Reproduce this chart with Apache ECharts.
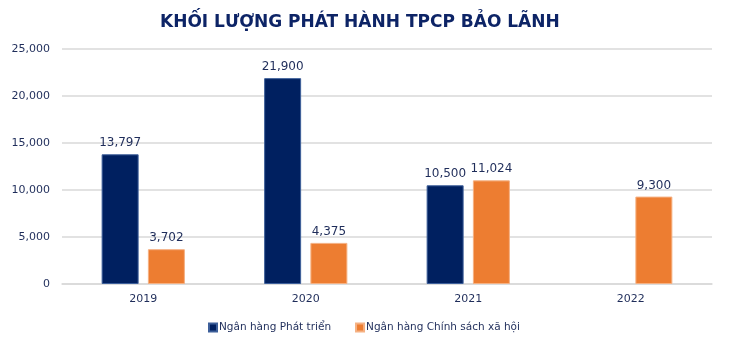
<!DOCTYPE html>
<html>
<head>
<meta charset="utf-8">
<script src="https://cdn.jsdelivr.net/npm/echarts@6/dist/echarts.min.js"></script>
<style>
  html, body { margin: 0; padding: 0; background: #fff; }
  #chart { width: 730px; height: 341px; }
</style>
</head>
<body>
<div id="chart"></div>
<script>
// Bảo lãnh phát hành TPCP theo năm
const years = ['2019', '2020', '2021', '2022'];
const vdbValues = [13797, 21900, 10500, null];      // Ngân hàng Phát triển
const vbspValues = [3702, 4375, 11024, 9300];       // Ngân hàng Chính sách xã hội
const yTicks = [0, 5000, 10000, 15000, 20000, 25000];

const fmt = v => v.toLocaleString('en-US');
const textColor = '#1f2d5a';
const font = 'DejaVu Sans';

const chart = echarts.init(document.getElementById('chart'), null, { renderer: 'canvas' });
chart.setOption({
  animation: false,
  title: {
    text: 'KHỐI LƯỢNG PHÁT HÀNH TPCP BẢO LÃNH',
    left: 155,
    top: 9,
    textStyle: { color: '#0d2466', fontFamily: font, fontWeight: 'bold', fontSize: 17 }
  },
  legend: {
    top: 317,
    left: 203,
    itemGap: 24,
    itemWidth: 8,
    itemHeight: 8,
    icon: 'rect',
    textStyle: { color: textColor, fontFamily: font, fontSize: 10.5, padding: [0, 0, 0, -3] },
    data: ['Ngân hàng Phát triển', 'Ngân hàng Chính sách xã hội']
  },
  grid: { left: 62, right: 18, top: 49, bottom: 57 },
  xAxis: {
    type: 'category',
    data: years,
    axisLine: { lineStyle: { color: '#d9d9d9', width: 1.5 } },
    axisTick: { show: false },
    axisLabel: { color: textColor, fontFamily: font, fontSize: 11, margin: 10 }
  },
  yAxis: {
    type: 'value',
    min: yTicks[0],
    max: yTicks[yTicks.length - 1],
    interval: yTicks[1] - yTicks[0],
    axisLine: { show: false },
    axisTick: { show: false },
    splitLine: { lineStyle: { color: '#d9d9d9', width: 1.5 } },
    axisLabel: { color: textColor, fontFamily: font, fontSize: 11, margin: 12, formatter: fmt }
  },
  series: [
    {
      name: 'Ngân hàng Phát triển',
      type: 'bar',
      data: vdbValues,
      barWidth: 37,
      barGap: '25%',
      itemStyle: { color: '#002060', borderColor: '#3d5f9a', borderWidth: 1 },
      label: {
        show: true, position: 'top', distance: 5,
        color: textColor, fontFamily: font, fontSize: 12,
        formatter: p => fmt(p.value)
      }
    },
    {
      name: 'Ngân hàng Chính sách xã hội',
      type: 'bar',
      data: vbspValues,
      barWidth: 37,
      barGap: '25%',
      itemStyle: { color: '#ed7d31', borderColor: '#f5b183', borderWidth: 1 },
      label: {
        show: true, position: 'top', distance: 5,
        color: textColor, fontFamily: font, fontSize: 12,
        formatter: p => fmt(p.value)
      }
    }
  ]
});
</script>
</body>
</html>
